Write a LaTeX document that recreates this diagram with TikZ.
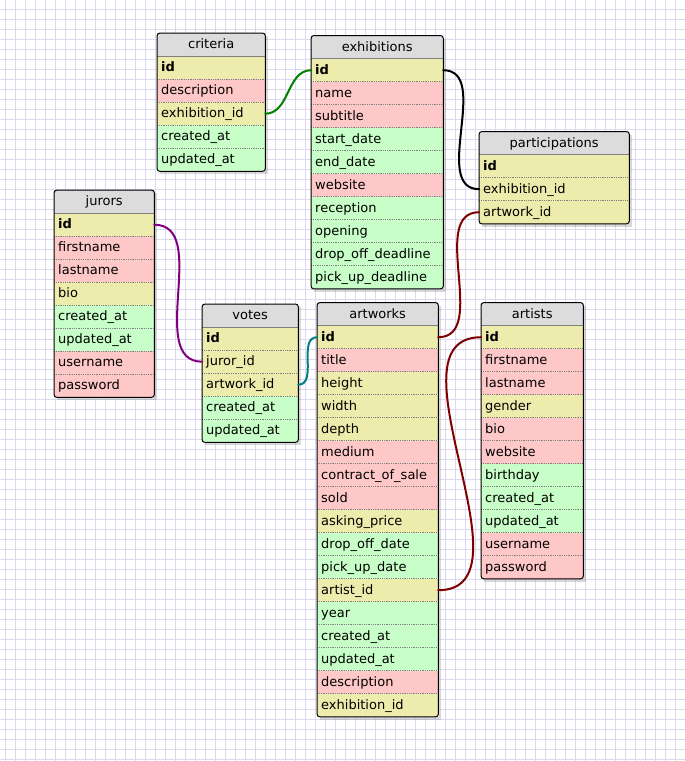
\documentclass[tikz,border=0pt]{standalone}
\usepackage{fontspec}
\setmainfont{DejaVu Sans}
\usetikzlibrary{matrix, positioning, shadows}

\definecolor{numcol}{RGB}{238,236,172}
\definecolor{chrcol}{RGB}{255,200,200}
\definecolor{datcol}{RGB}{200,255,200}
\definecolor{hdrcol}{RGB}{220,220,220}
\definecolor{gridcol}{RGB}{221,217,240}
\definecolor{relgreen}{RGB}{0,128,0}
\definecolor{relmaroon}{RGB}{128,0,0}
\definecolor{relpurple}{RGB}{128,0,128}
\definecolor{relteal}{RGB}{0,128,128}

\begin{document}
\begin{tikzpicture}[
    x=1pt, y=-1pt,
    font=\fontsize{13}{15}\selectfont,
    tbl/.style={matrix of nodes, anchor=north west, inner sep=0pt, row sep=0pt,
      drop shadow={shadow xshift=3pt, shadow yshift=-3pt, opacity=.3, rounded corners=3pt},
      nodes={text width=#1, inner xsep=4pt, inner ysep=0pt, outer sep=0pt,
        minimum height=23pt, text height=10.5pt, text depth=2.5pt, align=left, anchor=center}},
    hd/.style={fill=hdrcol, align=center},
    nm/.style={fill=numcol},
    ch/.style={fill=chrcol},
    dt/.style={fill=datcol},
    rel/.style={line width=2pt, line cap=round}
  ]

  \useasboundingbox (0,0) rectangle (685,761);
  \fill[white] (0,0) rectangle (685,761);
  \foreach \x in {5,15,...,685} \draw[gridcol, line width=1pt] (\x,0) -- (\x,761);
  \foreach \y in {9,19,...,761} \draw[gridcol, line width=1pt] (0,\y) -- (685,\y);

  \matrix (criteria) [tbl=100pt] at (157,33) {
  |[hd]| criteria\\
  |[nm]| \textbf{id}\\
  |[ch]| description\\
  |[nm]| exhibition\_id\\
  |[dt]| created\_at\\
  |[dt]| updated\_at\\
  };

  \matrix (exhibitions) [tbl=124pt] at (311,35.5) {
  |[hd]| exhibitions\\
  |[nm]| \textbf{id}\\
  |[ch]| name\\
  |[ch]| subtitle\\
  |[dt]| start\_date\\
  |[dt]| end\_date\\
  |[ch]| website\\
  |[dt]| reception\\
  |[dt]| opening\\
  |[dt]| drop\_off\_deadline\\
  |[dt]| pick\_up\_deadline\\
  };

  \matrix (participations) [tbl=142pt] at (479,131.5) {
  |[hd]| participations\\
  |[nm]| \textbf{id}\\
  |[nm]| exhibition\_id\\
  |[nm]| artwork\_id\\
  };

  \matrix (jurors) [tbl=92pt] at (54,190) {
  |[hd]| jurors\\
  |[nm]| \textbf{id}\\
  |[ch]| firstname\\
  |[ch]| lastname\\
  |[nm]| bio\\
  |[dt]| created\_at\\
  |[dt]| updated\_at\\
  |[ch]| username\\
  |[ch]| password\\
  };

  \matrix (votes) [tbl=88pt] at (202,304) {
  |[hd]| votes\\
  |[nm]| \textbf{id}\\
  |[nm]| juror\_id\\
  |[nm]| artwork\_id\\
  |[dt]| created\_at\\
  |[dt]| updated\_at\\
  };

  \matrix (artworks) [tbl=113pt] at (317,302.5) {
  |[hd]| artworks\\
  |[nm]| \textbf{id}\\
  |[ch]| title\\
  |[nm]| height\\
  |[nm]| width\\
  |[nm]| depth\\
  |[ch]| medium\\
  |[ch]| contract\_of\_sale\\
  |[ch]| sold\\
  |[nm]| asking\_price\\
  |[dt]| drop\_off\_date\\
  |[dt]| pick\_up\_date\\
  |[nm]| artist\_id\\
  |[dt]| year\\
  |[dt]| created\_at\\
  |[dt]| updated\_at\\
  |[ch]| description\\
  |[nm]| exhibition\_id\\
  };

  \matrix (artists) [tbl=94pt] at (481,302.5) {
  |[hd]| artists\\
  |[nm]| \textbf{id}\\
  |[ch]| firstname\\
  |[ch]| lastname\\
  |[nm]| gender\\
  |[ch]| bio\\
  |[ch]| website\\
  |[dt]| birthday\\
  |[dt]| created\_at\\
  |[dt]| updated\_at\\
  |[ch]| username\\
  |[ch]| password\\
  };

  % row rules and table borders
  \foreach \t/\n in {criteria/6, exhibitions/11, participations/4, jurors/9, votes/6, artworks/18, artists/12} {
      \draw[gray, line width=1pt] (\t-1-1.south west) -- (\t-1-1.south east);
      \pgfmathtruncatemacro\m{\n-1}
      \foreach \i in {2,...,\m} {
          \draw[gray, densely dotted, line width=0.8pt] (\t-\i-1.south west) -- (\t-\i-1.south east);
        }
      \draw[line width=1pt, rounded corners=3pt] (\t.north west) rectangle (\t.south east);
    }

  \draw[rel, relgreen] (criteria-4-1.east) to[out=0, in=180] (exhibitions-2-1.west);
  \draw[rel, black] (exhibitions-2-1.east) to[out=0, in=180] (participations-3-1.west);
  \draw[rel, relmaroon] (artworks-2-1.east) to[out=0, in=180] (participations-4-1.west);
  \draw[rel, relpurple] (jurors-2-1.east) to[out=0, in=180] (votes-3-1.west);
  \draw[rel, relteal] (votes-4-1.east) to[out=0, in=180] (artworks-2-1.west);
  \draw[rel, relmaroon] (artworks-13-1.east) to[out=0, in=180] (artists-2-1.west);

\end{tikzpicture}
\end{document}
